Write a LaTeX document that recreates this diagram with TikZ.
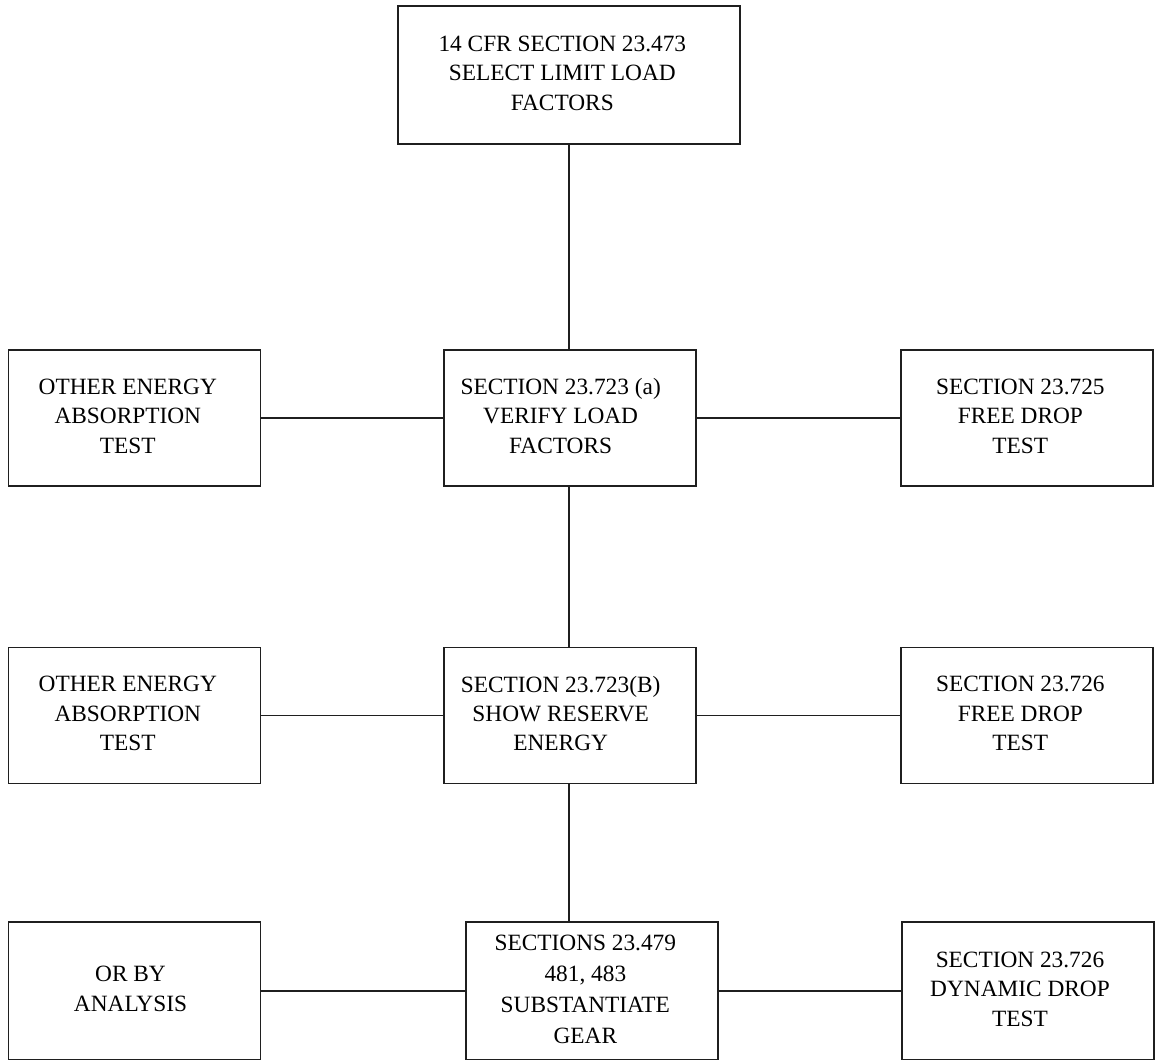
\documentclass[tikz,border=0pt]{standalone}
\usepackage{fontspec}
\setmainfont{Liberation Serif}
\begin{document}
% one unit = one pixel of a 1155 x 1059 sheet, y runs downwards
\begin{tikzpicture}[x=0.75pt,y=-0.75pt,
  box/.style={draw=black!88, line width=1.1pt, rectangle, inner sep=0pt,
              minimum width=189pt, minimum height=102pt},
  wide/.style={minimum width=256.5pt, minimum height=103.5pt},
  tall/.style={minimum height=103.5pt},
  lbl/.style={align=center, inner sep=0pt,
              font=\fontsize{17.5}{22.1}\selectfont},
  link/.style={draw=black!88, line width=1.1pt}]

\clip (0,0) rectangle (1155,1059);
\fill[white] (0,0) rectangle (1155,1059);

% boxes
\node[box,wide] (top) at (569,75) {};
\node[box] (r1l) at (134.5,418) {};
\node[box] (r1c) at (570,418) {};
\node[box] (r1r) at (1027,418) {};
\node[box] (r2l) at (134.5,715.5) {};
\node[box] (r2c) at (570,715.5) {};
\node[box] (r2r) at (1027,715.5) {};
\node[box,tall] (r3l) at (134.5,991) {};
\node[box,tall] (r3c) at (592,991) {};
\node[box,tall] (r3r) at (1028,991) {};

% labels
\node[lbl] (ttop) at ([xshift=-5pt,yshift=1.5pt]top.center) {14 CFR SECTION 23.473\\SELECT LIMIT LOAD\\FACTORS};
\node[lbl] (t1l) at ([xshift=-5pt,yshift=1.5pt]r1l.center) {OTHER ENERGY\\ABSORPTION\\TEST};
\node[lbl] (t1c) at ([xshift=-7pt,yshift=1.5pt]r1c.center) {SECTION 23.723 (a)\\VERIFY LOAD\\FACTORS};
\node[lbl] (t1r) at ([xshift=-5pt,yshift=1.5pt]r1r.center) {SECTION 23.725\\FREE DROP\\TEST};
\node[lbl] (t2l) at ([xshift=-5pt,yshift=1.5pt]r2l.center) {OTHER ENERGY\\ABSORPTION\\TEST};
\node[lbl] (t2c) at ([xshift=-7pt,yshift=1.5pt]r2c.center) {SECTION 23.723(B)\\SHOW RESERVE\\ENERGY};
\node[lbl] (t2r) at ([xshift=-5pt,yshift=1.5pt]r2r.center) {SECTION 23.726\\FREE DROP\\TEST};
\node[lbl] (t3l) at ([xshift=-3pt,yshift=1.5pt]r3l.center) {OR BY\\ANALYSIS};
\node[lbl,font=\fontsize{17.5}{23.2}\selectfont] (t3c) at ([xshift=-5pt,yshift=1.5pt]r3c.center) {SECTIONS 23.479\\481, 483\\SUBSTANTIATE\\GEAR};
\node[lbl] (t3r) at ([xshift=-6pt,yshift=1.5pt]r3r.center) {SECTION 23.726\\DYNAMIC DROP\\TEST};

% vertical spine
\draw[link] (top.south) -- (top.south |- r1c.north);
\draw[link] (top.south |- r1c.south) -- (top.south |- r2c.north);
\draw[link] (top.south |- r2c.south) -- (top.south |- r3c.north);

% side branches
\draw[link] (r1l.east) -- (r1c.west);
\draw[link] (r1c.east) -- (r1r.west);
\draw[link] (r2l.east) -- (r2c.west);
\draw[link] (r2c.east) -- (r2r.west);
\draw[link] (r3l.east) -- (r3c.west);
\draw[link] (r3c.east) -- (r3r.west);
\end{tikzpicture}
\end{document}
